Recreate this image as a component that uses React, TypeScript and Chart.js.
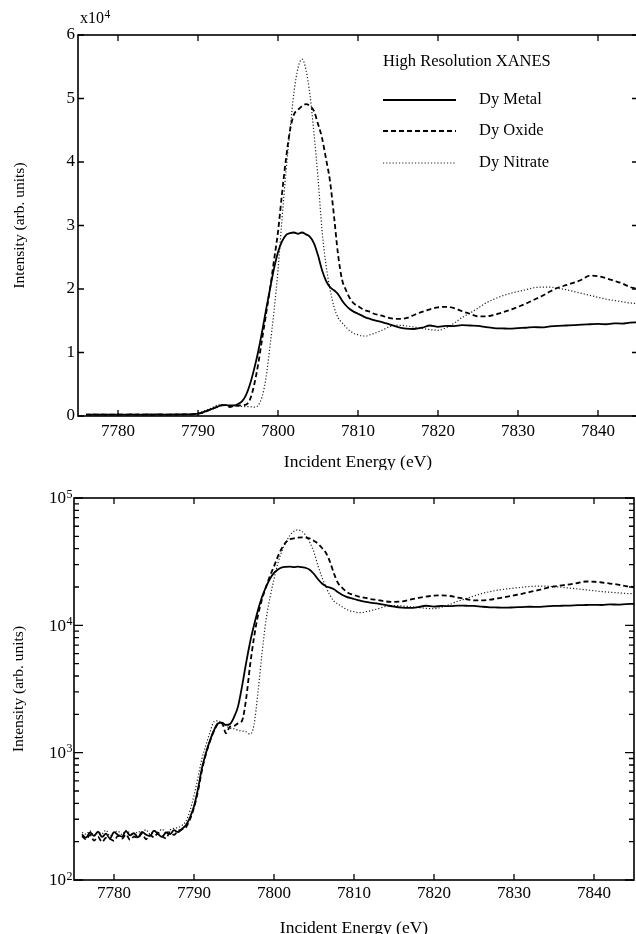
import React, { useEffect, useRef } from "react";
import { Chart, registerables } from "chart.js";

Chart.register(...registerables);

// ---------- data ----------
const energies = [
  7776, 7776.5, 7777, 7777.5, 7778, 7778.5, 7779, 7779.5, 7780, 7780.5, 7781, 7781.5, 7782, 7782.5,
  7783, 7783.5, 7784, 7784.5, 7785, 7785.5, 7786, 7786.5, 7787, 7787.5, 7788, 7788.5,
  7789, 7789.5, 7790, 7790.5, 7791, 7791.5, 7792, 7792.5, 7793, 7793.5, 7794, 7794.5, 7795, 7795.5,
  7796, 7796.5, 7797, 7797.5, 7798, 7798.5, 7799, 7799.5, 7800, 7800.5, 7801, 7801.5, 7802, 7802.5,
  7803, 7803.5, 7804, 7804.5, 7805, 7805.5, 7806, 7806.5, 7807, 7807.5, 7808, 7808.5, 7809, 7809.5,
  7810, 7810.5, 7811, 7811.5, 7812,
  7813, 7814, 7815, 7816, 7817, 7818, 7819, 7820, 7821, 7822, 7823, 7824, 7825, 7826, 7827, 7828,
  7829, 7830, 7831, 7832, 7833, 7834, 7835, 7836, 7837, 7838, 7839, 7840, 7841, 7842, 7843, 7844, 7845,
];

const dyMetal = [
  228, 215, 236, 222, 240, 218, 231, 212, 238, 226, 219, 242, 224, 233, 216, 239, 227, 221, 244, 230,
  218, 236, 229, 246, 238, 252,
  270, 310, 380, 520, 760, 1000, 1250, 1500, 1700, 1720, 1650, 1680, 1900, 2300, 3300, 5000, 7300,
  10000, 13200, 16700, 20000, 23200, 25800, 27500, 28500, 28800, 28900, 28700, 28900, 28600, 28200,
  27200, 25300, 23000, 21300, 20300, 19800, 19200, 18200, 17400, 16800, 16400, 16100, 15800, 15500,
  15300, 15100,
  14800, 14400, 14000, 13750, 13700, 13900, 14250, 14050, 14200, 14150, 14300, 14250, 14200, 14000,
  13850, 13800, 13750, 13850, 13900, 14000, 13950, 14100, 14200, 14250, 14300, 14400, 14450, 14500,
  14450, 14600, 14550, 14700, 14750,
];

const dyOxide = [
  221, 208, 226, 204, 218, 199, 214, 210, 203, 222, 211, 228, 207, 219, 214, 231, 209, 225, 217, 234,
  221, 212, 238, 226, 243, 250,
  260, 300, 370, 500, 730, 980, 1230, 1480, 1680, 1700, 1420, 1600, 1620, 1700, 1780, 2600, 4800,
  8000, 12000, 16000, 20000, 24500, 29000, 35000, 40500, 45000, 47500, 48200, 48800, 49100, 48800,
  48000, 46000, 43800, 40500, 37000, 31500, 25500, 21500, 19800, 18500, 17700, 17300, 16900, 16600,
  16400, 16100,
  15800, 15400, 15300, 15400, 15900, 16400, 16800, 17100, 17200, 17000, 16500, 16100, 15700, 15700,
  15900, 16300, 16700, 17200, 17700, 18300, 18900, 19600, 20200, 20600, 21000, 21500, 22100, 22000,
  21700, 21300, 20900, 20300, 20000,
];

const dyNitrate = [
  236, 229, 243, 224, 238, 231, 246, 222, 237, 241, 228, 245, 233, 226, 240, 236, 248, 230, 242, 238,
  251, 235, 247, 255, 258, 268,
  290, 350, 460, 640, 900, 1150, 1450, 1750, 1780, 1700, 1620, 1560, 1540, 1500, 1480, 1460, 1400,
  1650, 3000, 6000, 11000, 16500, 23000, 31000, 38500, 45000, 51000, 54800, 56200, 54500, 50500,
  44500, 37500, 29300, 23800, 20000, 17200, 15500, 14700, 14000, 13400, 13000, 12800, 12600, 12600,
  12800, 13000,
  13500, 14100, 14300, 14200, 14000, 13800, 13600, 13500, 13900, 14600, 15500, 16200, 17000, 17800,
  18400, 18900, 19300, 19600, 19900, 20200, 20300, 20300, 20100, 19900, 19600, 19300, 19000, 18700,
  18400, 18200, 18000, 17800, 17700,
];

const xTicks = [7780, 7790, 7800, 7810, 7820, 7830, 7840];
const linTicks = [0, 1, 2, 3, 4, 5, 6];
const logTicks = [100, 1000, 10000, 100000];
const seriesNames = ["Dy Metal", "Dy Oxide", "Dy Nitrate"];
const legendTitle = "High Resolution XANES";
const xTitle = "Incident Energy (eV)";
const yTitle = "Intensity (arb. units)";
const linMultiplier = "x10";
const linExponent = "4";

// ---------- styling ----------
const INK = "#000";
const FONT = '"Liberation Serif", "DejaVu Serif", serif';
const seriesStyles = [
  { color: "#000", width: 1.8, dash: [] as number[] },
  { color: "#000", width: 1.8, dash: [5, 3] },
  { color: "#222", width: 1.2, dash: [1.2, 2] },
];

const framePlugin = {
  id: "frame",
  afterDraw(chart: any, _args: any, opts: any) {
    const ctx = chart.ctx as CanvasRenderingContext2D;
    const { left, right, top, bottom } = chart.chartArea;
    const xs = chart.scales.x;
    const ys = chart.scales.y;
    ctx.save();
    ctx.setLineDash([]);
    ctx.strokeStyle = INK;
    ctx.lineWidth = 1.6;
    ctx.strokeRect(left, top, right - left, bottom - top);
    ctx.lineWidth = 1.3;
    ctx.beginPath();
    for (const v of xTicks) {
      const p = xs.getPixelForValue(v);
      ctx.moveTo(p, bottom);
      ctx.lineTo(p, bottom - 6);
      ctx.moveTo(p, top);
      ctx.lineTo(p, top + 6);
    }
    if (opts.mode === "log") {
      logTicks.forEach((base, d) => {
        const mults = d === logTicks.length - 1 ? [1] : [1, 2, 3, 4, 5, 6, 7, 8, 9];
        for (const m of mults) {
          const p = ys.getPixelForValue(base * m);
          const len = m === 1 ? 9 : 5;
          ctx.moveTo(left, p);
          ctx.lineTo(left + len, p);
          ctx.moveTo(right, p);
          ctx.lineTo(right - len, p);
        }
      });
    } else {
      for (const v of linTicks) {
        const p = ys.getPixelForValue(v);
        ctx.moveTo(left, p);
        ctx.lineTo(left + 6, p);
        ctx.moveTo(right, p);
        ctx.lineTo(right - 6, p);
      }
    }
    ctx.stroke();

    ctx.fillStyle = INK;
    // x title
    ctx.font = `17.5px ${FONT}`;
    ctx.textAlign = "center";
    ctx.textBaseline = "middle";
    ctx.fillText(xTitle, (left + right) / 2, opts.xTitleY);
    // y title
    ctx.save();
    ctx.translate(opts.yTitleX, (top + bottom) / 2);
    ctx.rotate(-Math.PI / 2);
    ctx.font = `15.5px ${FONT}`;
    ctx.fillText(yTitle, 0, 0);
    ctx.restore();

    if (opts.mode === "log") {
      for (const v of logTicks) {
        const p = ys.getPixelForValue(v);
        const exp = String(Math.round(Math.log10(v)));
        ctx.font = `17px ${FONT}`;
        ctx.textAlign = "right";
        ctx.fillText("10", left - 8, p + 1);
        ctx.font = `12px ${FONT}`;
        ctx.textAlign = "left";
        ctx.fillText(exp, left - 7.5, p - 3.5);
      }
    } else {
      // multiplier
      ctx.font = `16px ${FONT}`;
      ctx.textAlign = "left";
      ctx.fillText(linMultiplier, 80, 19);
      const w = ctx.measureText(linMultiplier).width;
      ctx.font = `11.5px ${FONT}`;
      ctx.fillText(linExponent, 80 + w + 0.5, 15);
      // legend
      ctx.font = `16.5px ${FONT}`;
      ctx.fillText(legendTitle, 383, 62);
      const rows = [100, 131, 163];
      seriesNames.forEach((name, i) => {
        const st = seriesStyles[i];
        ctx.save();
        ctx.strokeStyle = st.color;
        ctx.lineWidth = st.width;
        ctx.setLineDash(st.dash);
        ctx.beginPath();
        ctx.moveTo(383, rows[i]);
        ctx.lineTo(456, rows[i]);
        ctx.stroke();
        ctx.restore();
        ctx.fillStyle = INK;
        ctx.fillText(name, 479, rows[i]);
      });
    }
    ctx.restore();
  },
};

function makeConfig(mode: "lin" | "log"): any {
  const isLog = mode === "log";
  const series = [dyMetal, dyOxide, dyNitrate];
  const datasets = series.map((vals, i) => ({
    label: seriesNames[i],
    data: energies.map((e, k) => ({ x: e, y: isLog ? vals[k] : vals[k] / 10000 })),
    borderColor: seriesStyles[i].color,
    borderWidth: seriesStyles[i].width,
    borderDash: seriesStyles[i].dash,
    pointRadius: 0,
    fill: false,
    tension: 0,
    cubicInterpolationMode: "monotone",
  }));
  const tickFont = { family: FONT, size: 17 };
  return {
    type: "line",
    data: { datasets },
    plugins: [framePlugin],
    options: {
      responsive: false,
      animation: false,
      events: [],
      layout: {
        padding: isLog
          ? { top: 28, right: 10, left: 0, bottom: 0 }
          : { top: 35, right: 6, left: 0, bottom: 0 },
      },
      plugins: {
        legend: { display: false },
        tooltip: { enabled: false },
        frame: isLog
          ? { mode: "log", xTitleY: 458, yTitleX: 19 }
          : { mode: "lin", xTitleY: 462, yTitleX: 20 },
      },
      scales: {
        x: {
          type: "linear",
          min: 7775,
          max: 7845,
          afterBuildTicks: (s: any) => {
            s.ticks = xTicks.map((v) => ({ value: v }));
          },
          afterFit: (s: any) => {
            s.height = 54;
          },
          grid: { display: false, drawTicks: false },
          border: { display: false },
          ticks: {
            font: tickFont,
            color: INK,
            padding: isLog ? 3 : 5,
            maxRotation: 0,
            autoSkip: false,
            callback: (v: any) => String(v),
          },
        },
        y: isLog
          ? {
              type: "logarithmic",
              min: 100,
              max: 100000,
              afterBuildTicks: (s: any) => {
                s.ticks = logTicks.map((v) => ({ value: v }));
              },
              afterFit: (s: any) => {
                s.width = 74;
              },
              grid: { display: false, drawTicks: false },
              border: { display: false },
              ticks: { display: false },
            }
          : {
              type: "linear",
              min: 0,
              max: 6,
              afterBuildTicks: (s: any) => {
                s.ticks = linTicks.map((v) => ({ value: v }));
              },
              afterFit: (s: any) => {
                s.width = 78;
              },
              grid: { display: false, drawTicks: false },
              border: { display: false },
              ticks: { font: tickFont, color: INK, padding: 3, callback: (v: any) => String(v) },
            },
      },
    },
  };
}

export default function App() {
  const topRef = useRef<HTMLCanvasElement>(null);
  const botRef = useRef<HTMLCanvasElement>(null);
  useEffect(() => {
    const c1 = new Chart(topRef.current as HTMLCanvasElement, makeConfig("lin"));
    const c2 = new Chart(botRef.current as HTMLCanvasElement, makeConfig("log"));
    return () => {
      c1.destroy();
      c2.destroy();
    };
  }, []);
  return (
    <div
      style={{
        position: "fixed",
        left: 0,
        top: 0,
        width: 636,
        height: 934,
        overflow: "hidden",
        background: "#fff",
      }}
    >
      <canvas ref={topRef} width={644} height={470} style={{ display: "block", width: 644, height: 470 }} />
      <canvas ref={botRef} width={644} height={464} style={{ display: "block", width: 644, height: 464 }} />
    </div>
  );
}
